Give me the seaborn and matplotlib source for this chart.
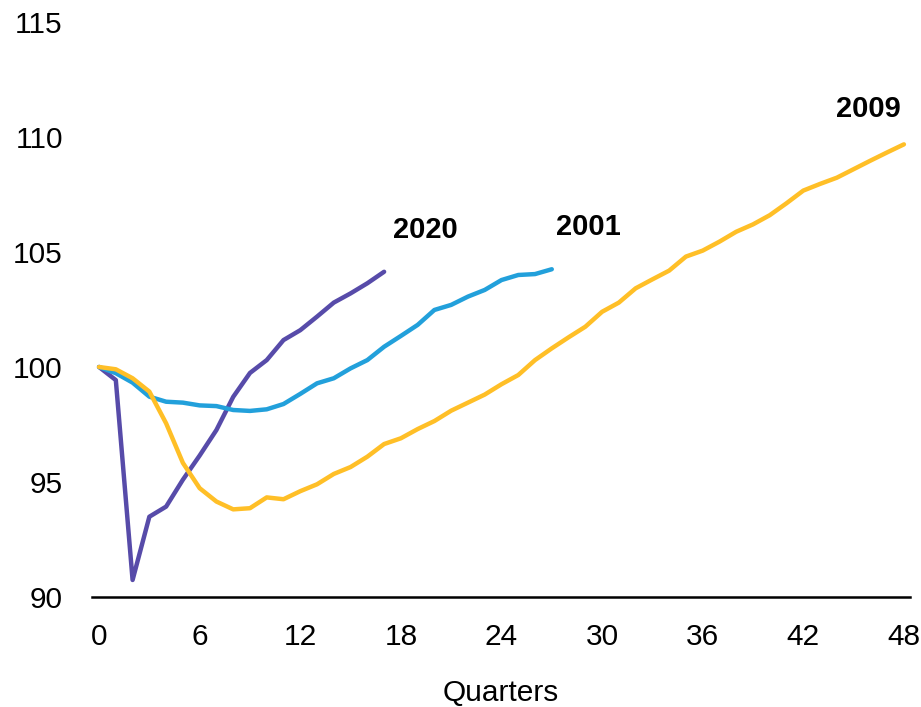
import matplotlib
matplotlib.use("Agg")
import matplotlib.pyplot as plt
import seaborn as sns
import pandas as pd

# Real GDP indexed to 100 at the start of each recession
quarters_2020 = list(range(0, 18))
values_2020 = [100.0, 99.43, 90.74, 93.49, 93.93, 95.1, 96.15, 97.26, 98.7, 99.74,
               100.3, 101.17, 101.6, 102.19, 102.8, 103.2, 103.64, 104.14]

quarters_2001 = list(range(0, 28))
values_2001 = [100.0, 99.73, 99.32, 98.71, 98.49, 98.45, 98.33, 98.3, 98.13, 98.09,
               98.16, 98.39, 98.83, 99.29, 99.51, 99.94, 100.3, 100.88, 101.35, 101.83,
               102.48, 102.7, 103.06, 103.35, 103.78, 104.0, 104.04, 104.25]

quarters_2009 = list(range(0, 49))
values_2009 = [100.0, 99.9, 99.51, 98.93, 97.55, 95.83, 94.73, 94.15, 93.81, 93.86,
               94.33, 94.25, 94.6, 94.9, 95.35, 95.65, 96.1, 96.65, 96.9, 97.3,
               97.65, 98.1, 98.45, 98.8, 99.25, 99.65, 100.3, 100.81, 101.29, 101.75,
               102.4, 102.8, 103.42, 103.81, 104.19, 104.8, 105.06, 105.45, 105.88, 106.2,
               106.6, 107.12, 107.67, 107.96, 108.23, 108.6, 108.97, 109.33, 109.68]

series_names = ["2020", "2001", "2009"]
series_colors = {"2020": "#574BA9", "2001": "#22A0DB", "2009": "#FFBF27"}
label_positions = {"2020": (19.44, 105.6), "2001": (29.18, 105.74), "2009": (45.9, 110.86)}

x_ticks = [0, 6, 12, 18, 24, 30, 36, 42, 48]
y_ticks = [90, 95, 100, 105, 110, 115]

frames = []
for name, qs, vs in [("2020", quarters_2020, values_2020),
                     ("2001", quarters_2001, values_2001),
                     ("2009", quarters_2009, values_2009)]:
    frames.append(pd.DataFrame({"Quarters": qs, "Index": vs, "Episode": name}))
df = pd.concat(frames, ignore_index=True)

sns.set_theme(style="white")
plt.rcParams["font.family"] = ["Liberation Sans", "DejaVu Sans"]

fig = plt.figure(figsize=(9.21, 7.07), dpi=100)
ax = fig.add_axes([0.0999, 0.1556, 0.8881, 0.8133])

sns.lineplot(data=df, x="Quarters", y="Index", hue="Episode",
             hue_order=series_names, palette=series_colors,
             linewidth=3.2, legend=False, ax=ax, sort=False)

for name in series_names:
    x, y = label_positions[name]
    ax.text(x, y, name, ha="center", va="baseline", fontsize=21,
            fontweight="bold", color="black")

ax.set_xlim(-0.42, 48.36)
ax.set_ylim(90, 115)
ax.set_xticks(x_ticks)
ax.set_yticks(y_ticks)
ax.tick_params(axis="both", length=0, labelsize=21.5, colors="black")
ax.tick_params(axis="y", pad=21)
ax.tick_params(axis="x", pad=19)
ax.set_xlabel("Quarters", fontsize=21.5, labelpad=20, color="black")
ax.set_ylabel("")

for side in ["left", "right", "top"]:
    ax.spines[side].set_visible(False)
ax.spines["bottom"].set_color("black")
ax.spines["bottom"].set_linewidth(1.8)

fig.savefig("out.png", dpi=100)
